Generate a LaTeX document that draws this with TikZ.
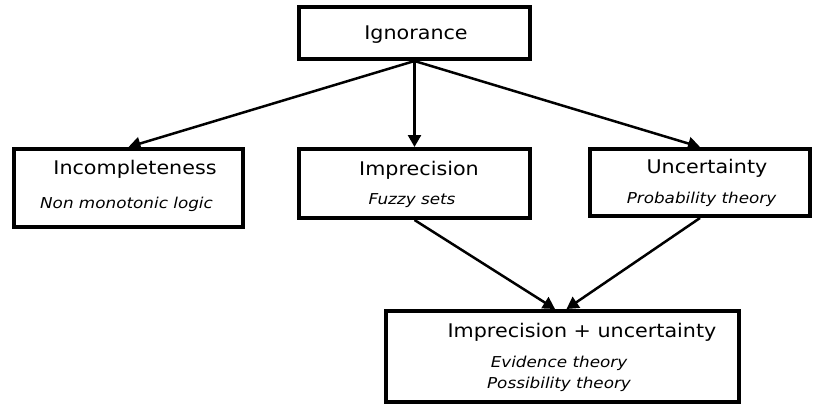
\documentclass[tikz,border=0pt]{standalone}
\usepackage{fontspec}
\setmainfont{DejaVu Sans}[FakeStretch=1.1]
\newfontfamily\notefont{DejaVu Sans}[FakeStretch=1.12]
\usetikzlibrary{arrows.meta}
\begin{document}
\begin{tikzpicture}[x=1pt,y=-1pt,
  box/.style={draw, line width=3.8pt, inner sep=0pt},
  title/.style={anchor=base, inner sep=0pt, font=\fontsize{18.8}{21}\selectfont},
  sub/.style={anchor=base, inner sep=0pt, font=\notefont\fontsize{15}{18}\selectfont\itshape},
  link/.style={line width=2.5pt, -{Triangle[length=12pt,width=13pt]}}]
\useasboundingbox (0,0) rectangle (814,405);

% boxes
\node[box, minimum width=231.2pt, minimum height=52.2pt] (ign) at (414.5,33) {};
\node[box, minimum width=229.2pt, minimum height=78.2pt] (inc) at (128.5,188) {};
\node[box, minimum width=231.2pt, minimum height=69.2pt] (imp) at (414.5,183.5) {};
\node[box, minimum width=220.2pt, minimum height=67.2pt] (unc) at (700,182.5) {};
\node[box, minimum width=353.2pt, minimum height=91.2pt] (bot) at (562.5,356.5) {};

% labels
\node[title] (ignT) at (416,39) {Ignorance};
\node[title] (incT) at (135,174) {Incompleteness};
\node[sub]   (incS) at (126.5,208) {Non monotonic logic};
\node[title] (impT) at (419,175) {Imprecision};
\node[sub]   (impS) at (412,204) {Fuzzy sets};
\node[title] (uncT) at (707,173) {Uncertainty};
\node[sub]   (uncS) at (701.5,203) {Probability theory};
\node[title] (botT) at (582,337) {Imprecision + uncertainty};
\node[sub]   (botS1) at (559,367) {Evidence theory};
\node[sub]   (botS2) at (559,388) {Possibility theory};

% connectors
\draw[link] (ign.south) -- (inc.north);
\draw[link] (ign.south) -- (imp.north);
\draw[link] (ign.south) -- (unc.north);
\draw[link] (imp.south) -- ([xshift=-7.5pt]bot.north);
\draw[link] (unc.south) -- ([xshift=4pt]bot.north);
\end{tikzpicture}
\end{document}
